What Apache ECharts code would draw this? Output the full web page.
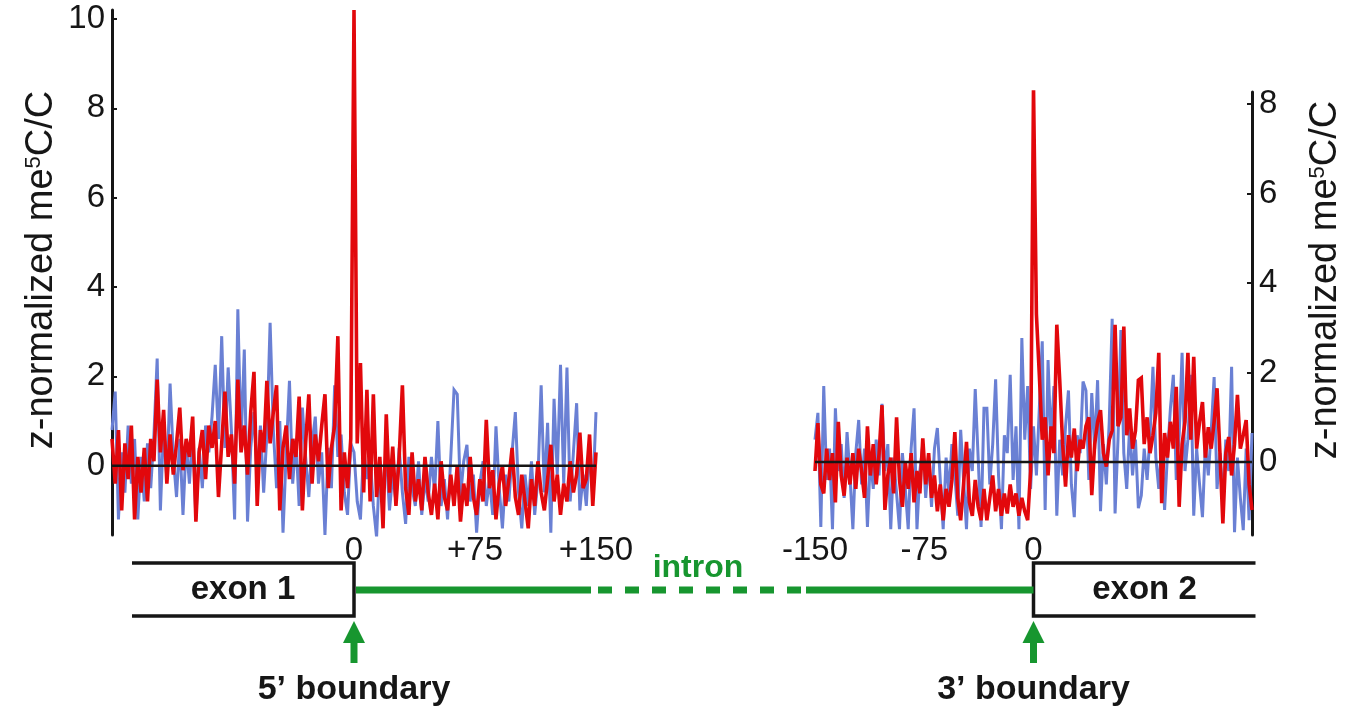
<!DOCTYPE html>
<html><head><meta charset="utf-8">
<script src="https://cdn.jsdelivr.net/npm/echarts@6/dist/echarts.min.js"></script>
<style>html,body{margin:0;padding:0;background:#fff}#c{width:1358px;height:711px}</style>
</head><body><div id="c"></div>
<script>
// positions (bp) relative to each boundary, sampled every 2 bp
const positions = [];
for (let p = -150; p <= 150; p += 2) positions.push(p);

// 5' boundary panel (left)
const blue5 = [
 0.8,1.66,-1.2,0.3,-0.6,0.9,-0.4,0.6,-1.2,0.2,
 -0.8,0.5,-0.5,0.7,2.4,-1.0,0.9,-0.3,1.84,0.2,
 -0.7,0.6,-1.1,0.5,-0.4,0.8,-1.2,0.4,-0.5,0.9,
 0.3,1.1,2.26,0.6,2.9,0.4,2.2,0.8,-1.2,3.5,
 0.5,2.6,-1.25,0.4,1.2,-0.3,0.9,-0.6,0.7,3.2,
 0.8,-0.5,1.0,-1.5,0.3,1.9,-0.4,0.6,-0.9,1.3,
 0.2,-0.7,0.5,1.1,-0.4,0.3,-1.55,0.4,-0.5,1.8,
 0.2,0.7,-0.6,-1.1,0.5,0.3,-0.8,-1.2,0.4,-0.3,
 0.2,-0.9,-1.6,0.1,-0.7,0.3,-1.0,-0.2,-0.8,0.4,
 -0.6,-1.3,0.2,-0.5,-0.9,0.1,-1.1,-0.3,-0.8,0.2,
 -0.6,1.0,-0.9,-0.3,-1.2,0.2,1.7,1.6,-0.7,0.1,
 0.47,-0.8,-0.2,-1.5,-0.4,0.1,-0.9,-0.3,-1.1,0.88,
 -0.5,-1.4,-0.2,-0.8,0.3,1.2,-0.6,-1.4,-0.2,-0.9,
 0.1,-1.1,-0.3,1.8,-0.6,0.96,-1.5,1.5,-0.2,2.26,
 -0.4,2.2,-0.8,0.3,1.4,-1.0,-0.2,-0.9,0.4,-0.7,1.2
];
const red5 = [
 0.6,-0.4,0.8,-1.0,0.5,-0.3,0.9,-1.2,0.2,-0.6,
 0.4,-0.8,0.6,0.1,1.93,0.3,1.25,-0.4,0.7,-0.2,
 0.5,1.3,-0.1,0.6,0.2,1.1,-1.25,0.3,0.8,-0.3,
 0.9,0.4,1.0,-0.7,0.5,1.66,0.2,0.7,-0.4,1.93,
 0.3,0.9,-0.2,1.2,2.1,-0.9,0.8,0.3,1.9,0.5,
 1.2,1.8,-1.0,0.4,0.9,-0.3,0.6,0.2,1.55,-1.0,
 0.5,1.6,-0.4,0.7,0.1,0.9,1.6,-0.5,0.4,0.9,
 2.9,-1.0,0.3,-0.5,0.6,10.2,0.5,2.3,-0.6,1.7,
 -0.8,1.6,-0.7,0.2,-1.4,1.15,-0.6,0.43,-0.9,0.2,
 1.8,-0.5,-1.1,0.3,-0.8,-0.3,-1.0,0.2,-0.6,-1.1,
 -0.4,-1.2,0.1,-0.7,-1.0,-0.2,-0.9,0.0,-1.25,-0.4,
 -0.9,0.2,-0.7,-1.1,-0.3,-0.8,1.03,-0.5,-0.1,-1.2,
 -0.4,0.0,-0.9,-0.3,0.4,-0.7,-1.1,-0.2,-0.8,-1.4,
 -0.3,-0.9,0.1,-0.6,-1.0,-0.3,0.47,-0.8,-0.2,-1.1,
 -0.4,-0.8,0.1,-0.6,-0.2,0.74,-0.5,-0.3,0.7,-0.9,0.3
];
// 3' boundary panel (right)
const blue3 = [
 0.5,1.1,-1.45,1.7,-0.4,0.3,-1.5,1.2,-0.2,0.4,
 -0.8,0.67,-0.3,-1.5,0.2,0.94,-0.5,0.3,-1.45,0.1,
 -0.6,0.5,-0.3,1.3,-0.2,0.4,-1.5,0.1,-0.7,-1.5,
 0.2,-0.6,-1.5,0.3,1.2,-1.5,-0.2,0.4,-0.8,0.1,
 -1.0,0.3,0.76,-0.4,-1.5,0.1,-0.7,0.4,-0.3,-1.2,
 0.72,-0.4,-1.5,0.3,-0.2,1.63,0.1,-1.45,1.2,1.2,
 -0.5,0.4,1.85,-0.3,-1.5,0.6,0.2,1.95,-0.4,0.8,
 -1.5,2.77,0.5,1.7,-0.6,0.8,-0.3,1.2,2.7,-1.07,
 2.28,0.4,1.7,-1.2,0.5,-0.3,0.8,1.6,-0.5,-1.23,
 0.6,0.2,1.8,1.6,-0.4,1.54,0.3,1.83,-1.1,0.4,
 -0.5,0.9,3.2,-1.15,0.5,2.95,0.2,-0.6,0.8,-0.3,
 0.5,-1.03,-0.75,0.3,-0.4,0.6,2.13,0.1,-0.6,0.4,
 -1.07,0.2,1.2,1.95,-0.4,0.6,2.44,-0.2,0.5,1.95,
 -1.2,0.3,-0.5,-1.23,0.4,-0.3,0.7,1.9,-0.6,0.2,
 -0.9,0.5,-0.2,2.13,-1.57,0.1,-0.8,-1.52,0.3,-1.3,0.65
];
const red3 = [
 -0.2,0.87,-0.5,-0.7,0.3,-0.4,0.2,-0.9,0.9,-0.3,
 -0.75,0.1,-0.5,0.2,-0.6,0.3,-0.2,-0.8,0.8,-0.3,
 0.4,-0.5,0.2,1.27,-1.07,-0.3,0.1,-0.7,1.0,-0.4,
 -1.0,0.0,-0.6,0.2,-0.9,-0.2,-0.7,0.53,-0.5,0.2,
 -0.8,-0.3,-1.1,-0.5,-1.3,-0.6,-1.0,-0.4,0.67,-0.8,
 -1.3,-0.5,0.45,-0.9,-1.2,-0.4,-1.0,-1.3,-0.6,-1.3,
 -0.8,-0.3,-1.1,-0.6,-1.2,-0.7,-1.15,-0.5,-1.0,-0.7,
 -1.2,-0.8,-1.1,-1.3,-0.2,8.4,3.3,1.95,0.5,1.0,
 -0.3,0.8,0.2,3.07,1.83,0.4,-0.55,0.6,0.1,0.75,
 -0.2,0.5,0.3,0.8,1.0,-0.74,0.4,0.9,1.16,0.2,
 -0.1,0.5,0.7,3.07,0.8,1.0,3.03,0.6,1.2,0.3,
 0.7,1.83,1.88,0.4,1.0,0.2,0.6,1.1,2.44,-0.92,
 0.65,0.1,0.9,0.3,1.68,-1.0,0.4,0.9,2.44,0.5,
 2.35,0.3,0.9,1.34,0.1,0.78,0.3,0.9,1.65,0.2,
 -1.37,0.2,0.56,-0.3,0.4,1.5,0.3,0.6,0.94,-0.5,-1.07
];

// tick values / labels
const xTicks5 = [0, 75, 150];
const xTicks3 = [-150, -75, 0];
const yTicks5 = [0, 2, 4, 6, 8, 10];
const yTicks3 = [0, 2, 4, 6, 8];
const zeroLine = [-150, 150];

const FONT = 'Liberation Sans, Arial, Helvetica, sans-serif';
const BLUE = '#6a80d4';
const RED = '#e2080c';
const GREEN = '#17962f';
const INK = '#161616';

const pair = (arr) => positions.map((p, i) => [p, arr[i]]);

const chart = echarts.init(document.getElementById('c'), null, {renderer: 'canvas'});

function xAxisCfg(grid, ticks) {
  return {
    gridIndex: grid, type: 'value', min: -150, max: 150,
    axisLine: {show: false}, axisTick: {show: false}, splitLine: {show: false},
    axisLabel: {
      customValues: ticks, margin: -1,
      formatter: v => (v > 0 ? '+' + v : '' + v),
      fontSize: 33, color: INK, fontFamily: FONT
    }
  };
}
function yAxisCfg(grid, min, max, ticks, pos) {
  return {
    gridIndex: grid, type: 'value', min: min, max: max, position: pos,
    axisLine: {show: true, onZero: false, lineStyle: {color: INK, width: 3}},
    axisTick: {show: true, inside: true, length: 5, customValues: ticks, lineStyle: {color: INK, width: 2}},
    axisLabel: {customValues: ticks, margin: 7, fontSize: 33, color: INK, fontFamily: FONT},
    splitLine: {show: false}
  };
}
function lineSeries(xi, arr, color, w) {
  return {
    type: 'line', xAxisIndex: xi, yAxisIndex: xi, data: pair(arr),
    showSymbol: false, symbol: 'none', lineStyle: {color: color, width: w, join: 'miter', miterLimit: 4},
    itemStyle: {color: color}, silent: true
  };
}
function zeroSeries(xi) {
  return {
    type: 'line', xAxisIndex: xi, yAxisIndex: xi, data: zeroLine.map(v => [v, 0]),
    showSymbol: false, symbol: 'none', lineStyle: {color: INK, width: 2.5}, silent: true, z: 5
  };
}

chart.setOption({
  animation: false,
  backgroundColor: '#fff',
  grid: [
    {left: 112, top: 10, width: 484, height: 525},
    {left: 815, top: 92, width: 437, height: 443}
  ],
  xAxis: [xAxisCfg(0, xTicks5), xAxisCfg(1, xTicks3)],
  yAxis: [yAxisCfg(0, -1.55, 10.2, yTicks5, 'left'), yAxisCfg(1, -1.63, 8.27, yTicks3, 'right')],
  series: [
    lineSeries(0, blue5, BLUE, 3), lineSeries(0, red5, RED, 3.6),
    lineSeries(1, blue3, BLUE, 3), lineSeries(1, red3, RED, 3.6),
    zeroSeries(0), zeroSeries(1)
  ]
});

// gene-structure diagram aligned to the two boundaries (x = 0 of each panel)
const x5 = chart.convertToPixel({xAxisIndex: 0}, 0);
const x3 = chart.convertToPixel({xAxisIndex: 1}, 0);
const topY = 563, botY = 616, midY = 590, exonW = 222;
const lineS = {stroke: INK, lineWidth: 3.5};
const g = [];
// exon 1
g.push({type: 'polyline', shape: {points: [[x5 - exonW, topY], [x5, topY], [x5, botY], [x5 - exonW, botY]]}, style: Object.assign({fill: null}, lineS)});
g.push({type: 'text', x: x5 - exonW / 2, y: midY, style: {text: 'exon 1', font: 'bold 33px ' + FONT, fill: INK, align: 'center', verticalAlign: 'middle'}});
// exon 2
g.push({type: 'polyline', shape: {points: [[x3 + exonW, topY], [x3, topY], [x3, botY], [x3 + exonW, botY]]}, style: Object.assign({fill: null}, lineS)});
g.push({type: 'text', x: x3 + exonW / 2, y: midY, style: {text: 'exon 2', font: 'bold 33px ' + FONT, fill: INK, align: 'center', verticalAlign: 'middle'}});
// intron
g.push({type: 'line', shape: {x1: x5 + 2, y1: midY, x2: 591, y2: midY}, style: {stroke: GREEN, lineWidth: 7}});
g.push({type: 'line', shape: {x1: 598, y1: midY, x2: 806, y2: midY}, style: {stroke: GREEN, lineWidth: 7, lineDash: [14, 13]}});
g.push({type: 'line', shape: {x1: 806, y1: midY, x2: x3, y2: midY}, style: {stroke: GREEN, lineWidth: 7}});
g.push({type: 'text', x: 698, y: 568, style: {text: 'intron', font: 'bold 32px ' + FONT, fill: GREEN, align: 'center', verticalAlign: 'middle'}});
// arrows + labels
[[x5, '5\u2019 boundary'], [x3, '3\u2019 boundary']].forEach(([x, t]) => {
  g.push({type: 'rect', shape: {x: x - 3.5, y: 640, width: 7, height: 23}, style: {fill: GREEN}});
  g.push({type: 'polygon', shape: {points: [[x, 621], [x - 11, 643], [x + 11, 643]]}, style: {fill: GREEN}});
  g.push({type: 'text', x: x, y: 690, style: {text: t, font: 'bold 34px ' + FONT, fill: INK, align: 'center', verticalAlign: 'middle'}});
});
// axis titles
const titleRich = {sup: {fontSize: 22, verticalAlign: 'top', fontFamily: FONT, fill: INK}};
[[42, 270], [1326, 280]].forEach(([x, y]) => {
  g.push({type: 'text', x: x, y: y, rotation: Math.PI / 2,
    style: {text: 'z-normalized me{sup|5}C/C', rich: titleRich, fontSize: 38, fontFamily: FONT, fill: INK, align: 'center', verticalAlign: 'middle'}});
});
chart.setOption({graphic: g});
</script>
</body></html>
